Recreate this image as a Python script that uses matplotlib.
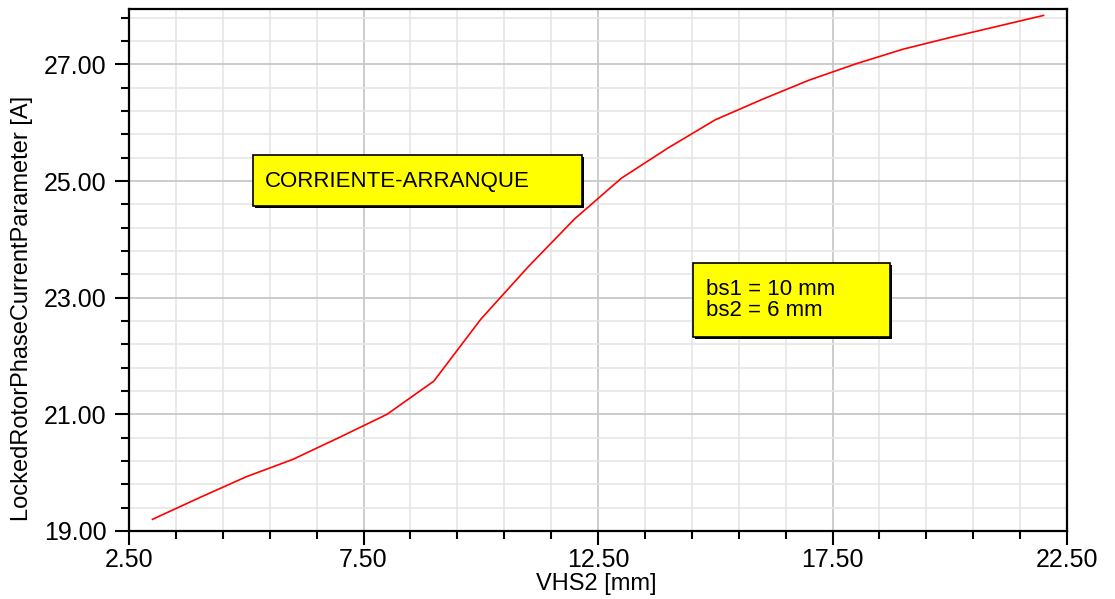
#!/usr/bin/env python3
# -*- coding: utf-8 -*-
import numpy as np
import matplotlib
matplotlib.use('Agg')
import matplotlib.pyplot as plt
from matplotlib.ticker import MultipleLocator, FormatStrFormatter
from matplotlib.patches import Rectangle

#************************************
''' Data read from the reference '''
#************************************
vhs2 = [3, 4, 5, 6, 7, 8, 9, 10, 11, 12, 13, 14, 15, 16, 17, 18, 19, 20, 21, 22]
lockedCurrent = [19.20, 19.57, 19.93, 20.23, 20.61, 21.00, 21.57, 22.63, 23.52, 24.35,
                 25.05, 25.57, 26.05, 26.40, 26.73, 27.01, 27.26, 27.46, 27.65, 27.84]
xLabel = 'VHS2 [mm]'
yLabel = 'LockedRotorPhaseCurrentParameter [A]'
titleBox = 'CORRIENTE-ARRANQUE'
paramBox = 'bs1 = 10 mm\nbs2 = 6 mm'

plt.rcParams['font.family'] = ['Liberation Sans', 'DejaVu Sans']

W, H = 1115, 599
fig = plt.figure(figsize=(W/100, H/100), dpi=100)
ax = fig.add_axes([129/W, 1-531/H, (1067-129)/W, (531-9)/H])

ax.plot(vhs2, lockedCurrent, color='#ff0000', lw=1.2, zorder=3)

ax.set_xlim(2.5, 22.5)
ax.set_ylim(19.0, 27.95)
ax.xaxis.set_major_locator(MultipleLocator(5.0, offset=2.5))
ax.xaxis.set_minor_locator(MultipleLocator(1.0, offset=0.5))
ax.yaxis.set_major_locator(MultipleLocator(2.0, offset=1.0))
ax.yaxis.set_minor_locator(MultipleLocator(0.4, offset=0.2))
ax.xaxis.set_major_formatter(FormatStrFormatter('%.2f'))
ax.yaxis.set_major_formatter(FormatStrFormatter('%.2f'))

ax.grid(which='major', color='#c8c8c8', lw=1.3, zorder=0)
ax.grid(which='minor', color='#e6e6e6', lw=1.2, zorder=0)
ax.set_axisbelow(True)

for s in ax.spines.values():
    s.set_linewidth(1.6)
    s.set_color('black')

ax.tick_params(which='major', direction='out', length=10, width=1.5, labelsize=18)
ax.tick_params(which='minor', direction='out', length=6, width=1.5)
ax.tick_params(axis='x', which='major', pad=2)
ax.tick_params(axis='y', which='major', pad=6)

fig.text(596/W, 1-584/H, xLabel, ha='center', va='center', fontsize=17)
fig.text(22/W, 1-308/H, yLabel, ha='center', va='center', rotation=90, fontsize=17)

# annotation boxes (figure pixel coordinates)
def drawBox(x0, y0, x1, y1, txt, tx, ty, fs):
    sh = Rectangle(((x0+2)/W, 1-(y1+2)/H), (x1-x0)/W, (y1-y0)/H,
                   transform=fig.transFigure, facecolor='black', edgecolor='none', zorder=4)
    box = Rectangle((x0/W, 1-y1/H), (x1-x0)/W, (y1-y0)/H, transform=fig.transFigure,
                    facecolor='#ffff00', edgecolor='black', lw=1.2, zorder=5)
    fig.patches.extend([sh, box])
    fig.text(tx/W, 1-ty/H, txt, ha='left', va='center', fontsize=fs,
             linespacing=1.05, zorder=6)

drawBox(253, 155, 582, 206, titleBox, 265, 181, 16)
drawBox(693, 263, 890, 337, paramBox, 706, 300, 16)

fig.savefig('out.png', dpi=100)
